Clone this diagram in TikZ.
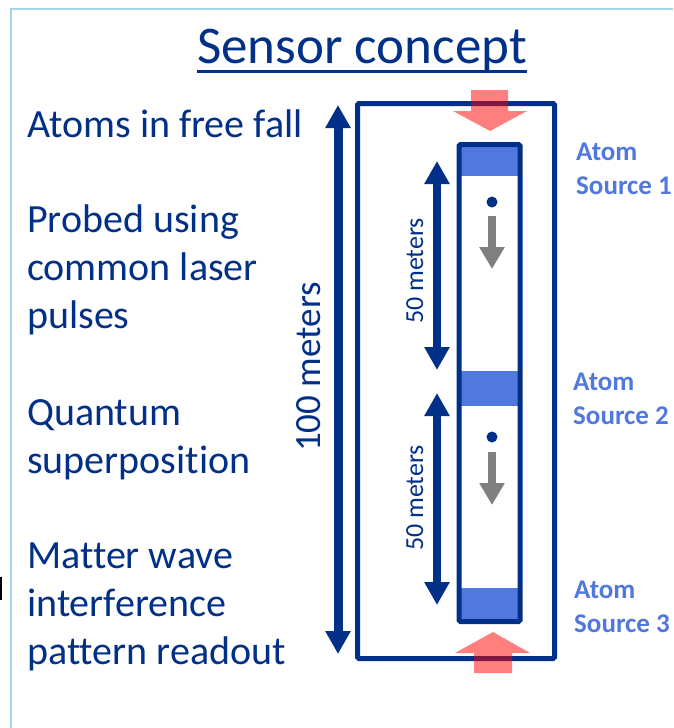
\documentclass[tikz,border=0pt]{standalone}
\usepackage{fontspec}
\setmainfont[Ligatures=NoCommon]{Carlito}
\usetikzlibrary{arrows.meta}
\definecolor{navy}{RGB}{0,48,135}
\definecolor{srcblue}{RGB}{80,120,222}
\definecolor{frameblue}{RGB}{165,214,232}

\begin{document}
\begin{tikzpicture}[x=1pt, y=-1pt,
  every node/.style={inner sep=0pt, navy},
  body/.style={font=\fontsize{40}{48}\selectfont, align=left, anchor=base west},
  src/.style={srcblue, font=\fontsize{27}{34}\selectfont\bfseries, align=left, anchor=base west},
  tube/.style={draw=navy, line width=5pt, rounded corners=1.5pt},
  band/.style={fill=srcblue},
  dimarrow/.style={navy, {Triangle[width=24pt,length=23pt]}-{Triangle[width=24pt,length=23pt]}},
  fallarrow/.style={gray, line width=8pt, -{Triangle[width=24pt,length=22pt]}},
  pulse/.style={fill=red, fill opacity=0.5}]
  \fill[white] (0,0) rectangle (673,728);
  \useasboundingbox (0,0) rectangle (673,728);
  \draw[frameblue, line width=1.5pt] (673,9) -- (11,9) -- (11,728);
  \fill[black] (0,577) rectangle (2,600);

  \node[font=\fontsize{53}{60}\selectfont, anchor=base] (title) at (362,63) {Sensor concept};
  \draw[navy, line width=3pt] ([yshift=-8pt]title.base west) -- ([yshift=-8pt]title.base east);

  % multi-line nodes sit on the baseline of their last line
  \node[body] (freefall) at (27,137) {Atoms in free fall};
  \node[body] (probed) at (27,328) {Probed using\\common laser\\pulses};
  \node[body] (quantum) at (27,473) {Quantum\\superposition};
  \node[body] (readout) at (27,664) {Matter wave\\interference\\pattern readout};

  \coordinate (hundredtop) at (338,105);
  \coordinate (hundredbot) at (338,654);
  \draw[dimarrow, line width=9pt] (hundredbot) -- (hundredtop);
  \node[font=\fontsize{37}{40}\selectfont, rotate=90, anchor=base] (hundred) at (320,367) {100 meters};

  \draw[tube] (357.5,103.5) rectangle (554.5,658.5);

  \fill[band] (459,144.5) rectangle (520,176);
  \fill[band] (459,371) rectangle (520,406);
  \fill[band] (459,588) rectangle (520,621.5);
  \draw[tube] (459,144.5) rectangle (520,621.5);

  \coordinate (fiftytop1) at (437,161);
  \coordinate (fiftybot1) at (437,370);
  \coordinate (fiftytop2) at (437,393);
  \coordinate (fiftybot2) at (437,605);
  \draw[dimarrow, line width=8pt] (fiftytop1) -- (fiftybot1);
  \draw[dimarrow, line width=8pt] (fiftytop2) -- (fiftybot2);
  \node[font=\fontsize{26}{30}\selectfont, rotate=90, anchor=base] (fifty1) at (423,271) {50 meters};
  \node[font=\fontsize{26}{30}\selectfont, rotate=90, anchor=base] (fifty2) at (423,498) {50 meters};

  \fill[navy] (492,202) circle (5.5pt);
  \fill[navy] (492,437) circle (5.5pt);
  \coordinate (fallstart1) at (492,216);
  \coordinate (fallend1) at (492,269);
  \coordinate (fallstart2) at (492,452);
  \coordinate (fallend2) at (492,505);
  \draw[fallarrow] (fallstart1) -- (fallend1);
  \draw[fallarrow] (fallstart2) -- (fallend2);

  \fill[pulse] (471,90) -- (508,90) -- (508,111) -- (527,111) -- (490,131) -- (453,111) -- (471,111) -- cycle;
  \fill[pulse] (474,673) -- (512,673) -- (512,653) -- (530,653) -- (493,632) -- (455,653) -- (474,653) -- cycle;

  \node[src] (source1) at (576,194) {Atom\\Source 1};
  \node[src] (source2) at (573,424) {Atom\\Source 2};
  \node[src] (source3) at (574,632) {Atom\\Source 3};
\end{tikzpicture}
\end{document}
